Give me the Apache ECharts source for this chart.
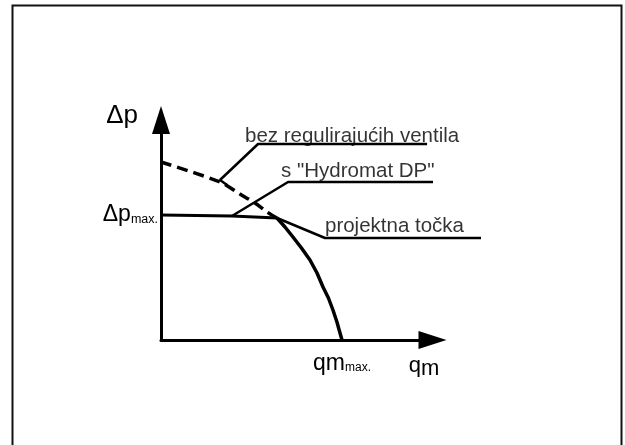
<!DOCTYPE html>
<html>
<head>
<meta charset="utf-8">
<script src="https://cdn.jsdelivr.net/npm/echarts@6/dist/echarts.min.js"></script>
<style>
html,body{margin:0;padding:0;background:#fff;}
#c{width:625px;height:445px;}
</style>
</head>
<body>
<div id="c"></div>
<script>
// Pump curve without control valves (dashed, up to the design point)
const pumpQ  = [0, 0.326, 0.436, 0.519, 0.586, 0.641];
const pumpDp = [1.424, 1.264, 1.168, 1.096, 1.024, 0.976];
// With "Hydromat DP": constant Δp up to design point
const flatQ  = [0, 0.392, 0.641];
const flatDp = [1.0, 0.992, 0.976];
// Pump curve below the design point (solid)
const lowQ  = [0.641, 0.685, 0.729, 0.776, 0.823, 0.862, 0.895, 0.925, 0.950, 0.972, 0.989, 1.0];
const lowDp = [0.976, 0.904, 0.824, 0.736, 0.640, 0.536, 0.424, 0.336, 0.240, 0.144, 0.056, 0];
// Leader lines
const lead1Q = [0.365, 0.326, 0.536, 1.470];
const lead1Dp = [1.240, 1.280, 1.568, 1.568];
const lead2Q = [0.392, 0.702, 1.503];
const lead2Dp = [0.992, 1.264, 1.264];
const lead3Q = [0.641, 0.906, 1.768];
const lead3Dp = [0.976, 0.816, 0.816];
// Annotation texts and their anchor (left, middle)
const noteText = ['bez regulirajućih ventila', 's "Hydromat DP"', 'projektna točka'];
const noteQ  = [0.464, 0.663, 0.906];
const noteDp = [1.630, 1.350, 0.910];
// Axis tick labels
const yTickVals = [1];
const xTickVals = [1];

const zip = (a, b) => a.map((v, i) => [v, b[i]]);
const FONT = '"Liberation Sans", Arial, sans-serif';
const chart = echarts.init(document.getElementById('c'), null, { renderer: 'canvas' });

function leader(q, dp) {
  return {
    type: 'line', data: zip(q, dp), symbol: 'none', silent: true,
    xAxisIndex: 1, yAxisIndex: 1,
    lineStyle: { color: '#000', width: 2.5 }, z: 3
  };
}

chart.setOption({
  animation: false,
  backgroundColor: '#fff',
  textStyle: { fontFamily: FONT, color: '#000' },
  graphic: [{
    type: 'rect', left: 10, top: 3, z: -1,
    shape: { width: 609, height: 460 },
    style: { fill: 'none', stroke: '#111', lineWidth: 2 }
  }],
  grid: [
    { left: 161, bottom: 105, width: 271.5, height: 220 },
    // same scale, wider area for annotation leaders
    { left: 161, bottom: 105, width: 320.0, height: 220 }
  ],
  xAxis: [{
    type: 'value', min: 0, max: 1.5, gridIndex: 0,
    splitLine: { show: false },
    axisLine: { show: true, onZero: false, symbol: ['none', 'triangle'], symbolSize: [18, 28],
      lineStyle: { color: '#000', width: 3 } },
    axisTick: { show: false },
    name: '{q|q}{m|m}', nameLocation: 'end', nameGap: 0,
    nameTextStyle: {
      align: 'center', verticalAlign: 'top', padding: [12, 17, 0, 0],
      rich: {
        q: { fontSize: 22, fontFamily: FONT, color: '#000' },
        m: { fontSize: 22, fontFamily: FONT, color: '#000', padding: [6, 0, 0, 0] }
      }
    },
    axisLabel: {
      show: true, customValues: xTickVals, margin: 12,
      formatter: () => '{a|qm}{b|max.}',
      rich: {
        a: { fontSize: 23, fontFamily: FONT, color: '#000' },
        b: { fontSize: 12, fontFamily: FONT, color: '#000', padding: [9, 0, 0, 0] }
      }
    }
  }, {
    type: 'value', min: 0, max: 320 / 181, gridIndex: 1, show: false
  }],
  yAxis: [{
    type: 'value', min: 0, max: 1.76, gridIndex: 0,
    splitLine: { show: false },
    axisLine: { show: true, onZero: false, symbol: ['none', 'triangle'], symbolSize: [18, 28],
      lineStyle: { color: '#000', width: 3 } },
    axisTick: { show: false },
    name: 'Δp', nameLocation: 'end', nameGap: 4,
    nameTextStyle: { fontSize: 26, fontFamily: FONT, color: '#000', align: 'right', verticalAlign: 'middle', padding: [0, 23, 0, 0] },
    axisLabel: {
      show: true, customValues: yTickVals, margin: 3,
      formatter: () => '{a|Δp}{b|max.}',
      rich: {
        a: { fontSize: 23, fontFamily: FONT, color: '#000' },
        b: { fontSize: 12.5, fontFamily: FONT, color: '#000', padding: [9, 0, 0, 0] }
      }
    }
  }, {
    type: 'value', min: 0, max: 1.76, gridIndex: 1, show: false
  }],
  series: [
    { type: 'line', data: zip(pumpQ, pumpDp), symbol: 'none', smooth: 0.3,
      lineStyle: { color: '#000', width: 3.5, type: [11, 6] }, z: 4 },
    { type: 'line', data: zip(flatQ, flatDp), symbol: 'none',
      lineStyle: { color: '#000', width: 3 }, z: 4 },
    { type: 'line', data: zip(lowQ, lowDp), symbol: 'none', smooth: false,
      lineStyle: { color: '#000', width: 3.5, join: 'round' }, z: 4 },
    leader(lead1Q, lead1Dp),
    leader(lead2Q, lead2Dp),
    leader(lead3Q, lead3Dp),
    { type: 'scatter', symbolSize: 0, silent: true, xAxisIndex: 1, yAxisIndex: 1,
      data: noteText.map((t, i) => ({ value: [noteQ[i], noteDp[i]], name: t })),
      label: { show: true, position: 'right', distance: 0, formatter: p => p.name,
        fontSize: 20.5, fontFamily: FONT, color: '#000' } }
  ]
});
</script>
</body>
</html>
